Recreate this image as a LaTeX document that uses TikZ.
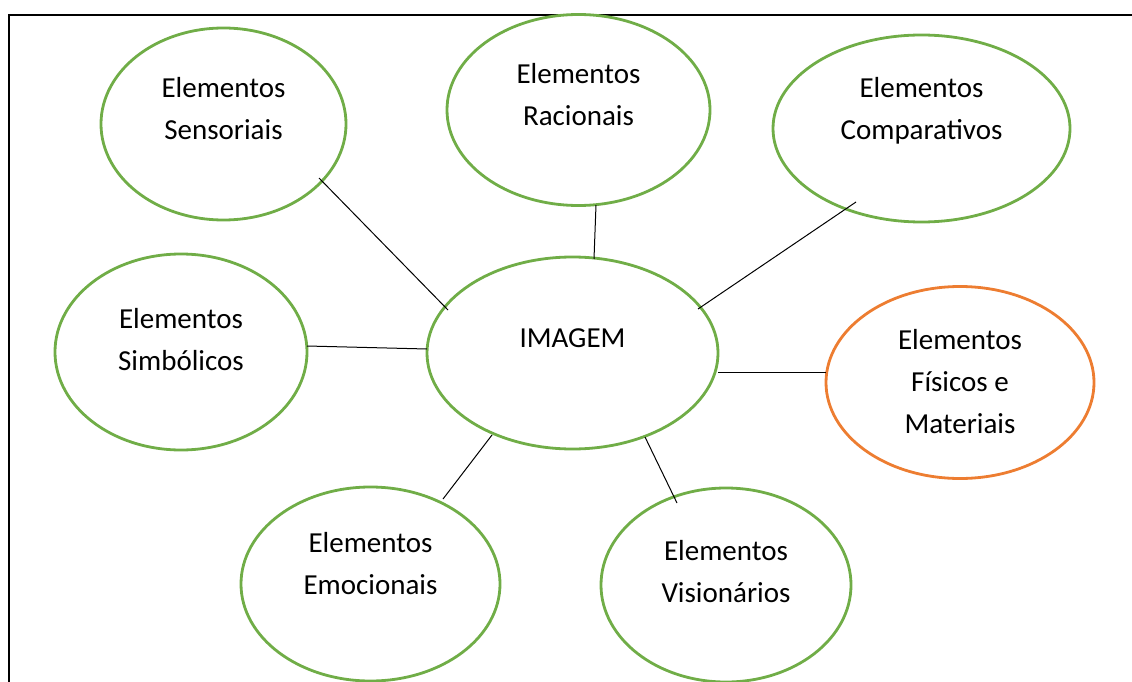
\documentclass[tikz,border=0pt]{standalone}
\usepackage{fontspec}
\setmainfont{Carlito}
\usetikzlibrary{shapes.geometric,calc}
\definecolor{ogreen}{HTML}{70AD47}
\definecolor{oorange}{HTML}{ED7D31}
\tikzset{
  bubble/.style={ellipse, draw=ogreen, line width=2.8pt, inner sep=0pt},
  lbl/.style={align=center, font=\fontsize{29}{42}\selectfont, inner sep=0pt},
  link/.style={draw=black, line width=1pt},
  frame/.style={draw=black, line width=2.2pt}
}
\begin{document}
\begin{tikzpicture}[x=1pt,y=-1pt]
\useasboundingbox (0,0) rectangle (1132,682);
\draw[frame] (9,682) -- (9,15) -- (1132,15);
% ellipses
\node[bubble, minimum width=245pt, minimum height=192pt] (sens) at (223.5,124) {};
\node[bubble, minimum width=263pt, minimum height=191pt] (rac) at (578.5,110) {};
\node[bubble, minimum width=297pt, minimum height=187pt] (comp) at (921.5,128.5) {};
\node[bubble, minimum width=252pt, minimum height=196pt] (symb) at (181,352) {};
\node[bubble, minimum width=291pt, minimum height=192pt] (img) at (572.5,353) {};
\node[bubble, draw=oorange, minimum width=268pt, minimum height=192pt] (fis) at (960,382.5) {};
\node[bubble, minimum width=259pt, minimum height=194pt] (emo) at (370.5,584) {};
\node[bubble, minimum width=250pt, minimum height=194pt] (vis) at (726,585) {};
% labels
\node[lbl] (tsens) at (223.5,109) {Elementos\\Sensoriais};
\node[lbl] (trac) at (578.5,95) {Elementos\\Racionais};
\node[lbl] (tcomp) at (921.5,111) {Elementos\\Comparativos};
\node[lbl] (tsymb) at (181,340) {Elementos\\Simbólicos};
\node[lbl] (timg) at (572.5,338) {IMAGEM};
\node[lbl] (tfis) at (960,382) {Elementos\\Físicos e\\Materiais};
\node[lbl] (temo) at (370.5,564) {Elementos\\Emocionais};
\node[lbl] (tvis) at (726,572) {Elementos\\Visionários};
% connectors
\draw[link] ($(sens.center)+(95.5,54)$) -- ($(img.center)+(-124.5,-43)$);
\draw[link] ($(rac.center)+(17.5,95)$) -- ($(img.center)+(21.5,-94)$);
\draw[link] ($(comp.center)+(-65.5,73.5)$) -- ($(img.center)+(125.5,-44)$);
\draw[link] ($(symb.center)+(126,-6)$) -- ($(img.center)+(-145.5,-4)$);
\draw[link] ($(fis.center)+(-134,-10.5)$) -- ($(img.center)+(145.5,19)$);
\draw[link] ($(emo.center)+(72.5,-85)$) -- ($(img.center)+(-80.5,82)$);
\draw[link] ($(vis.center)+(-49,-82)$) -- ($(img.center)+(72.5,84)$);
\end{tikzpicture}
\end{document}
